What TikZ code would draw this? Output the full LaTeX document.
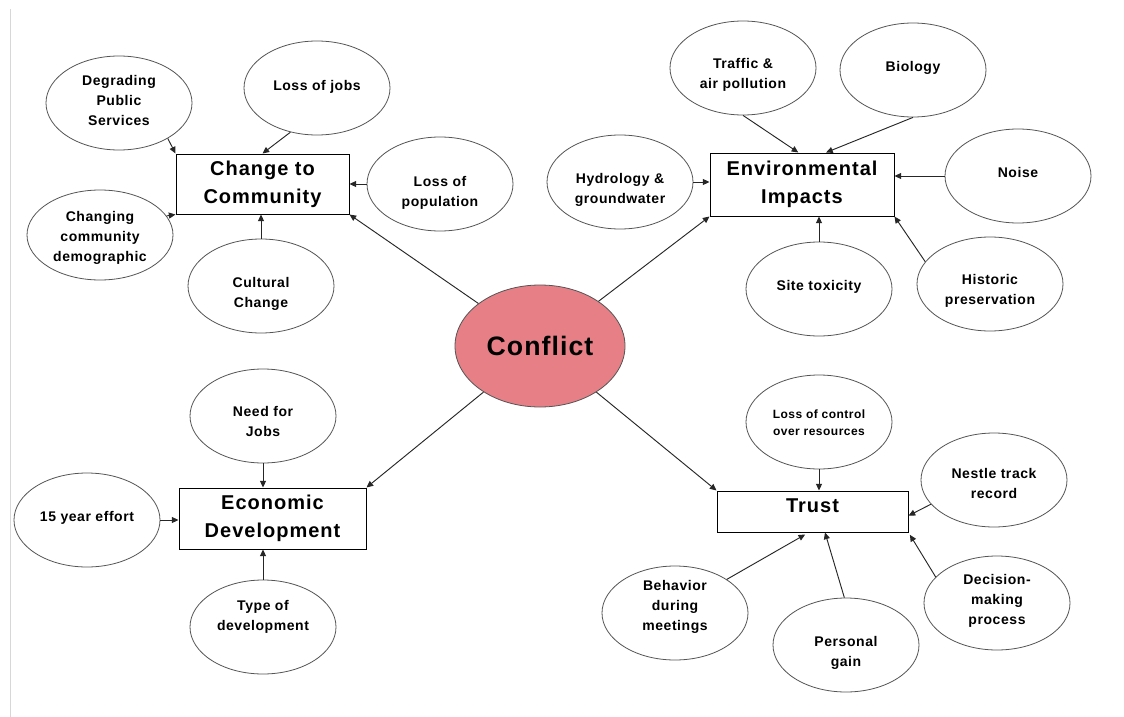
\documentclass[tikz,border=0pt]{standalone}
\usepackage{fontspec}
\setmainfont{Liberation Sans}
\newfontfamily\lsA[LetterSpace=4]{Liberation Sans}
\newfontfamily\lsB[LetterSpace=5]{Liberation Sans}
\usetikzlibrary{shapes.geometric,arrows.meta,calc}
\definecolor{confl}{RGB}{231,128,134}
\definecolor{edge}{RGB}{85,85,85}
\definecolor{leftline}{RGB}{215,215,215}
\newcommand\bub[5][]{\node[bub,label={[bubtext,name=#2t,yshift=#4,#1]center:#5}] (#2) at (#3) {};}
\begin{document}
\begin{tikzpicture}[x=0.75pt,y=-0.75pt,
  bub/.style={ellipse,draw=edge,line width=0.6pt,inner sep=0pt,minimum width=109.5pt,minimum height=70.5pt},
  bubtext/.style={inner sep=0pt,align=center,font=\lsA\fontsize{10.5}{15}\selectfont\bfseries},
  topic/.style={rectangle,draw=black,line width=0.75pt,inner sep=0pt,align=center,font=\lsB\fontsize{15}{21}\selectfont\bfseries},
  confnode/.style={ellipse,draw=edge,line width=0.6pt,fill=confl,inner sep=0pt,minimum width=127.5pt,minimum height=91.5pt,font=\lsA\fontsize{20}{24}\selectfont\bfseries},
  arr/.style={draw=black!85,line width=0.7pt,-{Triangle[length=5pt,width=4.5pt]}}]
\fill[white] (0,0) rectangle (1124,717);
\useasboundingbox (0,0) rectangle (1124,717);
\draw[leftline,line width=0.75pt] (10,9) -- (10,717);

% centre
\node[confnode] (conf) at (540,346) {Conflict};

% Change to Community
\node[topic,minimum width=129.75pt,minimum height=45pt] (ccc) at (262.5,184) {Change to\\Community};
\bub{degr}{119,103}{2.25pt}{Degrading\\Public\\Services}
\bub{jobs}{317,88}{0.75pt}{Loss of jobs}
\bub{pop}{440,184}{-6.75pt}{Loss of\\population}
\node[bub,minimum height=67.5pt,label={[bubtext,name=chgt,yshift=-2.25pt]center:Changing\\community\\demographic}] (chg) at (100,235) {};
\bub{cult}{261,286}{-6pt}{Cultural\\Change}

% Environmental Impacts
\node[topic,minimum width=138pt,minimum height=47.25pt] (env) at (802,184.5) {Environmental\\Impacts};
\bub{traffic}{743,68}{-5.25pt}{Traffic \&\\air pollution}
\bub{bio}{913,70}{1.5pt}{Biology}
\bub{hyd}{620,182}{-6pt}{Hydrology \&\\groundwater}
\bub{noise}{1018,176}{3pt}{Noise}
\bub{site}{819,289}{1.5pt}{Site toxicity}
\bub{hist}{990,284}{-5.25pt}{Historic\\preservation}

% Economic Development
\node[topic,minimum width=140.25pt,minimum height=45.75pt] (econ) at (272.5,518.5) {Economic\\Development};
\bub{need}{263,416}{-3.75pt}{Need for\\Jobs}
\bub{fifteen}{87,520}{1.5pt}{15 year effort}
\bub{type}{263,627}{7.5pt}{Type of\\development}

% Trust
\node[topic,minimum width=143.25pt,minimum height=30.75pt,text depth=9pt] (trust) at (812.5,511.5) {Trust};
\bub[font=\lsA\fontsize{9}{12.8}\selectfont\bfseries]{ctrl}{819,422}{-0.75pt}{Loss of control\\over resources}
\bub{nestle}{994,480}{-2.25pt}{Nestle track\\record}
\bub{beh}{675,613}{4.5pt}{Behavior\\during\\meetings}
\bub{pers}{846,645}{-6pt}{Personal\\gain}
\bub{dec}{997,603}{1.5pt}{Decision-\\making\\process}

% connectors: community
\draw[arr] (degr.-36) -- (ccc.north west);
\draw[arr] (jobs.239) -- (ccc.north);
\draw[arr] (pop) -- (pop -| ccc.east);
\draw[arr] (chg.16) -- (ccc.south west);
\draw[arr] (cult) -- (cult |- ccc.south);
\draw[arr] (conf) -- (ccc.south east);

% connectors: environment
\draw[arr] (traffic.south) -- ($(env.north west)!0.48!(env.north east)$);
\draw[arr] (bio.south) -- ($(env.north west)!0.63!(env.north east)$);
\draw[arr] (hyd) -- (hyd -| env.west);
\draw[arr] (noise) -- (noise -| env.east);
\draw[arr] (site) -- (site |- env.south);
\draw[arr] (hist.161) -- (env.south east);
\draw[arr] (conf) -- (env.south west);

% connectors: economic
\draw[arr] (need) -- (need |- econ.north);
\draw[arr] (fifteen) -- (fifteen -| econ.west);
\draw[arr] (type) -- (type |- econ.south);
\draw[arr] (conf) -- (econ.north east);

% connectors: trust
\draw[arr] (ctrl) -- (ctrl |- trust.north);
\draw[arr] (nestle.201) -- ($(trust.north east)!0.6!(trust.south east)$);
\draw[arr,shorten >=3pt] (beh.33) -- ($(trust.south west)!0.48!(trust.south east)$);
\draw[arr] (pers.92) -- ($(trust.south west)!0.565!(trust.south east)$);
\draw[arr,shorten >=2pt] (dec.157) -- (trust.south east);
\draw[arr] (conf) -- (trust.north west);
\end{tikzpicture}
\end{document}
